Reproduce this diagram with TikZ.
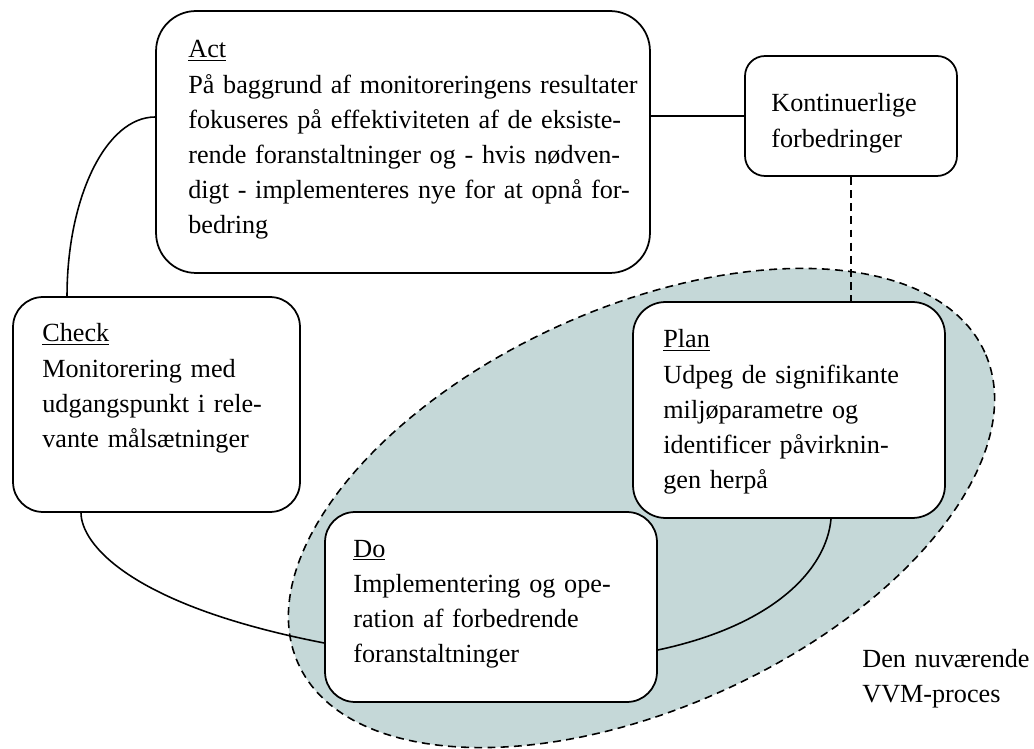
\documentclass[tikz,border=0pt]{standalone}
\usepackage{fontspec}
\setmainfont{Liberation Serif}
\usetikzlibrary{shapes.geometric}
\definecolor{vvmfill}{RGB}{197,216,216}

\begin{document}
\begin{tikzpicture}[x=0.02cm,y=0.02cm]
\tikzset{
  stagebox/.style={draw,rounded corners=#1,fill=white,line width=1pt,inner sep=0pt},
  stagetext/.style={anchor=base west,inner sep=0pt,align=left,font=\fontsize{14.9}{20}\selectfont},
  link/.style={line width=0.9pt},
  dashlink/.style={line width=0.9pt,dash pattern=on 4.5pt off 3pt}
}
\useasboundingbox (0,0) rectangle (1034,-749);
% the current process
\node[ellipse,draw,fill=vvmfill,dashlink,minimum width=15.08cm,minimum height=8cm,inner sep=0pt,rotate=24.4] (n_vvm) at (641.5,-508) {};
% boxes
\node[stagebox=0.8cm,minimum width=9.88cm,minimum height=5.24cm] (n_act) at (403,-142) {};
\node[stagebox=0.4cm,minimum width=4.24cm,minimum height=2.4cm] (n_kont) at (851,-116) {};
\node[stagebox=0.6cm,minimum width=5.74cm,minimum height=4.3cm] (n_check) at (156.5,-404.5) {};
\node[stagebox=0.65cm,minimum width=6.24cm,minimum height=4.32cm] (n_plan) at (789,-410) {};
\node[stagebox=0.6cm,minimum width=6.64cm,minimum height=3.8cm] (n_do) at (491,-607) {};
% texts
\node[stagetext,text width=9.4cm] (n_act_txt) at (188,-58) {\underline{Act}\\På baggrund af monitoreringens resultater\\fokuseres på effektiviteten af de eksiste-\\rende foranstaltninger og - hvis nødven-\\digt - implementeres nye for at opnå for-\\bedring};
\node[stagetext,text width=3.5cm] (n_kont_txt) at (771,-112) {Kontinuerlige\\forbedringer};
\node[stagetext,text width=5.2cm] (n_check_txt) at (42,-342) {\underline{Check}\\Monitorering med\\udgangspunkt i rele-\\vante målsætninger};
\node[stagetext,text width=5.6cm] (n_plan_txt) at (663,-348) {\underline{Plan}\\Udpeg de signifikante\\miljøparametre og\\identificer påvirknin-\\gen herpå};
\node[stagetext,text width=6cm] (n_do_txt) at (353,-557) {\underline{Do}\\Implementering og ope-\\ration af forbedrende\\foranstaltninger};
\node[stagetext,text width=3.45cm] (n_vvm_txt) at (862,-667) {Den nuværende\\VVM-proces};
% connectors
\draw[link] (n_kont.west) -- (n_kont.west -| n_act.east);
\draw[dashlink] (n_kont.south) -- (n_kont.south |- n_plan.north);
\draw[link] ([yshift=0.5cm]n_act.west) to[out=180,in=90,out distance=0.98cm,in distance=1.98cm] ([xshift=-1.79cm]n_check.north);
\draw[link] ([xshift=-1.51cm]n_check.south) to[out=-90,in=169,out distance=0.6cm,in distance=4cm] ([yshift=-0.72cm]n_do.west);
\draw[link] ([xshift=0.84cm]n_plan.south) to[out=-95,in=12,out distance=1cm,in distance=2.4cm] ([yshift=-0.86cm]n_do.east);
\end{tikzpicture}
\end{document}
